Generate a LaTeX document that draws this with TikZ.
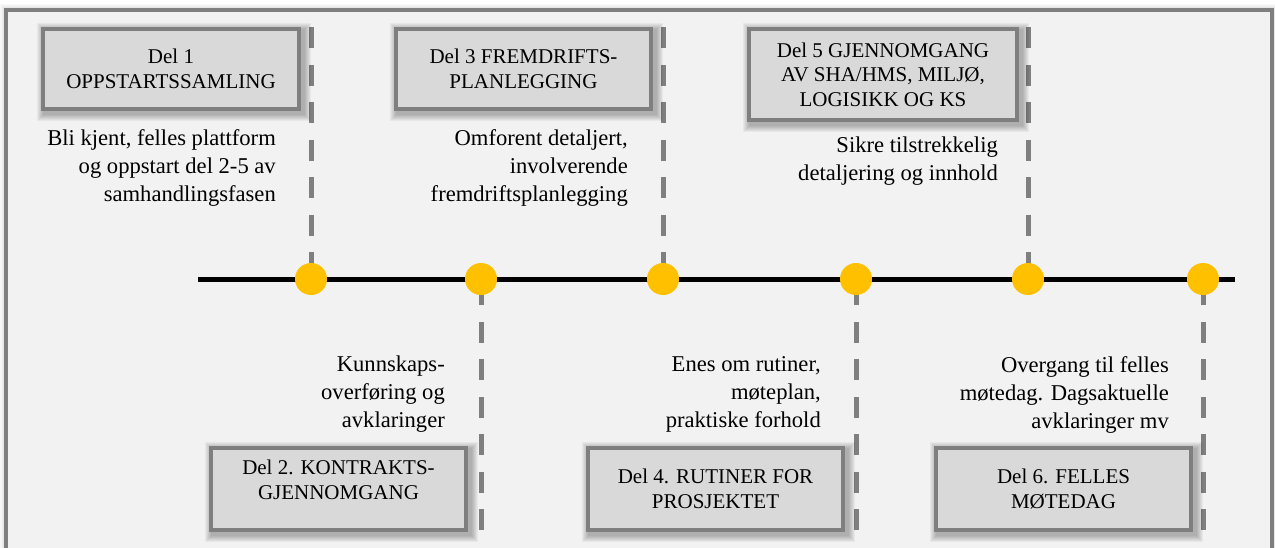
\documentclass[tikz,border=0pt]{standalone}
\usepackage{fontspec}
\setmainfont{Liberation Serif}
\pgfdeclarelayer{bg}
\pgfdeclarelayer{shd}
\pgfsetlayers{bg,shd,main}
\definecolor{framegray}{HTML}{7F7F7F}
\definecolor{framefill}{HTML}{F2F2F2}
\definecolor{boxfill}{HTML}{D9D9D9}
\definecolor{dotyellow}{HTML}{FFC000}
\newcommand\softshadow[1]{%
  \begin{pgfonlayer}{shd}
    \foreach \r in {1,...,7}{
      \fill[black, opacity=0.045] ([shift={(3-\r,3-\r)}]#1.north west) rectangle ([shift={(3+\r,3+\r)}]#1.south east);
    }
  \end{pgfonlayer}}
\tikzset{
  phasebox/.style={draw=framegray, line width=4pt, fill=boxfill, align=center,
    font=\fontsize{21}{24.5}\selectfont, inner sep=0pt},
  boxtext/.style={align=center, inner sep=0pt, font=\fontsize{21}{24.5}\selectfont},
  desc/.style={align=right, anchor=east, inner sep=0pt, font=\fontsize{22.6}{28}\selectfont},
  dot/.style={circle, fill=dotyellow, minimum size=32pt, inner sep=0pt},
  guide/.style={draw=framegray, line width=5pt, dash pattern=on 21pt off 16.5pt},
  timeline/.style={draw=black, line width=5pt},
}
\begin{document}
\begin{tikzpicture}[x=1pt, y=-1pt]
\useasboundingbox (0,0) rectangle (1275,547);
\begin{pgfonlayer}{bg}
  \fill[white] (0,0) rectangle (1275,547);
  \foreach \r in {1,...,6}{
    \fill[black, opacity=0.025] (6-\r,10-\r) rectangle (1272+\r,565+\r);
  }
  \draw[framegray, line width=4pt, fill=framefill] (6,10) rectangle (1272,565);
\end{pgfonlayer}

% coordinates
\coordinate (tA) at (198,279);
\coordinate (tB) at (1235,279);
\coordinate (u1) at (311,27);
\coordinate (u3) at (663,27);
\coordinate (u5) at (1028,27);
\coordinate (l2) at (481,530);
\coordinate (l4) at (856,530);
\coordinate (l6) at (1203,530);

% dots
\node[dot] (c1) at (311,279) {};
\node[dot] (c2) at (481,279) {};
\node[dot] (c3) at (663,279) {};
\node[dot] (c4) at (856,279) {};
\node[dot] (c5) at (1028,279) {};
\node[dot] (c6) at (1203,279) {};

% guides and timeline (behind dots)
\begin{pgfonlayer}{shd}
  \draw[guide] (u1) -- (c1.center);
  \draw[guide] (u3) -- (c3.center);
  \draw[guide] (u5) -- (c5.center);
  \draw[guide] (l2) -- (c2.center);
  \draw[guide] (l4) -- (c4.center);
  \draw[guide] (l6) -- (c6.center);
  \draw[timeline] (tA) -- (tB);
\end{pgfonlayer}

% boxes
\node[phasebox, minimum width=256pt, minimum height=80pt] (box1) at (171,69) {Del 1\\OPPSTARTSSAMLING};
\node[phasebox, minimum width=255pt, minimum height=80pt] (box3) at (523.5,69) {Del 3 FREMDRIFTS-\\PLANLEGGING};
\node[phasebox, minimum width=268pt, minimum height=91pt] (box5) at (883,74.5) {Del 5 GJENNOMGANG\\AV SHA/HMS, MILJØ,\\LOGISIKK OG KS};
\node[phasebox, minimum width=255pt, minimum height=81.5pt] (box2) at (338.5,489) {};
\node[boxtext] (box2t) at (338.5,480) {Del 2. KONTRAKTS-\\GJENNOMGANG};
\node[phasebox, minimum width=255pt, minimum height=81.5pt] (box4) at (715.5,489) {Del 4. RUTINER FOR\\PROSJEKTET};
\node[phasebox, minimum width=255pt, minimum height=81.5pt] (box6) at (1063.5,489) {Del 6. FELLES\\MØTEDAG};
\softshadow{box1}
\softshadow{box3}
\softshadow{box5}
\softshadow{box2}
\softshadow{box4}
\softshadow{box6}

% descriptions
\node[desc] (d1) at (276,168) {Bli kjent, felles plattform\\og oppstart del 2-5 av\\samhandlingsfasen};
\node[desc] (d3) at (628,168) {Omforent detaljert,\\involverende\\fremdriftsplanlegging};
\node[desc] (d5) at (998,161) {Sikre tilstrekkelig\\detaljering og innhold};
\node[desc] (d2) at (445,394.5) {Kunnskaps-\\overføring og\\avklaringer};
\node[desc] (d4) at (821,394.5) {Enes om rutiner,\\møteplan,\\praktiske forhold};
\node[desc] (d6) at (1169,394.5) {Overgang til felles\\møtedag. Dagsaktuelle\\avklaringer mv};
\end{tikzpicture}
\end{document}
